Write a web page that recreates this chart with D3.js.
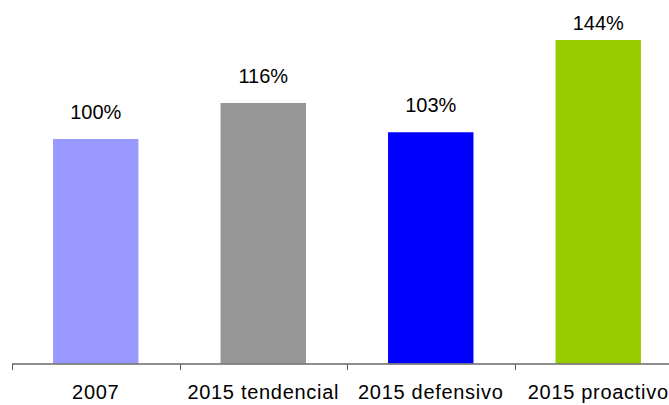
<!DOCTYPE html>
<html>
<head>
<meta charset="utf-8">
<script src="https://cdn.jsdelivr.net/npm/d3@7"></script>
<style>
  html, body { margin: 0; padding: 0; background: #fff; }
  svg { display: block; }
  text { font-family: "Liberation Sans", Arial, sans-serif; fill: #000; }
</style>
</head>
<body>
<svg id="chart" width="669" height="405"></svg>
<script>
// Scenario comparison, index relative to 2007 (%)
const categories = ["2007", "2015 tendencial", "2015 defensivo", "2015 proactivo"];
const values = [100, 116, 103, 144];
const colors = ["#9999FF", "#969696", "#0000FF", "#99CC00"];

const svg = d3.select("#chart");
const baseY = 364;

const x = d3.scaleBand()
  .domain(categories)
  .range([12, 682])
  .paddingInner(0.49)
  .paddingOuter(0.245);

const y = d3.scaleLinear()
  .domain([0, 160])
  .range([baseY, 4]);

// Bars
svg.append("g")
  .selectAll("rect")
  .data(categories)
  .join("rect")
  .attr("x", d => x(d))
  .attr("y", (d, i) => y(values[i]))
  .attr("width", x.bandwidth())
  .attr("height", (d, i) => y(0) - y(values[i]))
  .attr("fill", (d, i) => colors[i]);

// Value labels (kept inside the plot area at the top)
svg.append("g")
  .selectAll("text")
  .data(categories)
  .join("text")
  .attr("x", d => x(d) + x.bandwidth() / 2)
  .attr("y", (d, i) => Math.max(y(values[i]) - 20, 30))
  .attr("text-anchor", "middle")
  .style("font-size", "20px")
  .text((d, i) => values[i] + "%");

// Category axis
const axis = svg.append("g");
axis.append("line")
  .attr("x1", 12).attr("x2", 669)
  .attr("y1", baseY).attr("y2", baseY)
  .attr("stroke", "#7a7a7a")
  .attr("stroke-width", 2)
  .attr("stroke-opacity", 0.85);

const boundaries = categories.map(c => x(c) + x.bandwidth() / 2 - x.step() / 2);
axis.selectAll("line.tick")
  .data(boundaries)
  .join("line")
  .attr("class", "tick")
  .attr("x1", d => Math.round(d) + 0.5).attr("x2", d => Math.round(d) + 0.5)
  .attr("y1", baseY).attr("y2", baseY + 6)
  .attr("stroke", "#555")
  .attr("stroke-width", 1);

axis.selectAll("text")
  .data(categories)
  .join("text")
  .attr("x", d => x(d) + x.bandwidth() / 2)
  .attr("y", 399)
  .attr("text-anchor", "middle")
  .style("font-size", "20px")
  .style("letter-spacing", "0.7px")
  .text(d => d);
</script>
</body>
</html>
